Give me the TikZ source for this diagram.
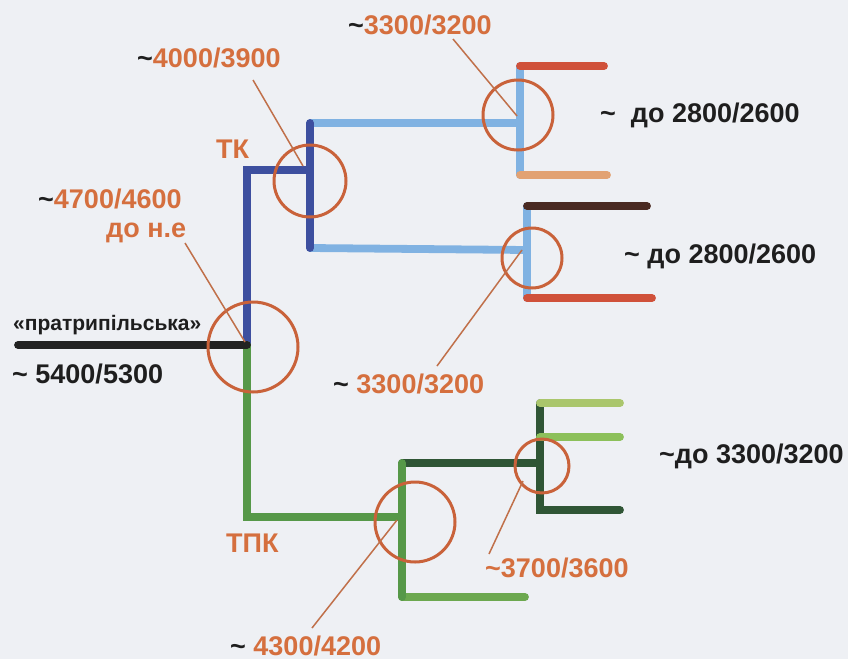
\documentclass[tikz,border=0pt]{standalone}
\usepackage{fontspec}
\setmainfont{Liberation Sans}
\definecolor{bgc}{HTML}{EEF0F4}
\definecolor{labc}{HTML}{D56F3E}
\definecolor{ringc}{HTML}{C9623A}
\definecolor{leadc}{HTML}{C0704A}
\definecolor{txtc}{HTML}{1E1E1E}
\definecolor{rootc}{HTML}{222222}
\definecolor{dblue}{HTML}{3D4F9F}
\definecolor{lblue}{HTML}{80B2E2}
\definecolor{redc}{HTML}{D0513A}
\definecolor{tanc}{HTML}{E2A273}
\definecolor{brownc}{HTML}{4A2A22}
\definecolor{mgreen}{HTML}{569848}
\definecolor{dgreen}{HTML}{2F5535}
\definecolor{lgreen}{HTML}{6CA84F}
\definecolor{ygreen}{HTML}{AAC66C}
\definecolor{pgreen}{HTML}{8CC05A}
\begin{document}
\begin{tikzpicture}[x=1pt,y=-1pt,
  br/.style={line width=7.8pt,line cap=round,line join=miter},
  ring/.style={circle,draw=ringc,line width=3pt,inner sep=0pt,fill=none},
  lead/.style={draw=leadc,line width=1.5pt},
  lbl/.style={font=\bfseries\fontsize{27}{27}\selectfont,text=labc,inner sep=0pt,anchor=base west},
  blk/.style={font=\bfseries\fontsize{27}{27}\selectfont,text=txtc,inner sep=0pt,anchor=base west},
]
\fill[bgc] (0,0) rectangle (848,659);
\useasboundingbox (0,0) rectangle (848,659);

% ---- coordinates of the tree ----
\coordinate (r0) at (18,345);
\coordinate (j0) at (247,345);
\coordinate (tkc) at (247,170);
\coordinate (j1) at (310,170);
\coordinate (j1t) at (310,123);
\coordinate (j1b) at (310,248);
\coordinate (j2) at (520,123);
\coordinate (j2t) at (520,66);
\coordinate (j2b) at (520,175);
\coordinate (e2t) at (604,66);
\coordinate (e2b) at (607,175);
\coordinate (j3) at (527,250);
\coordinate (j3t) at (527,206);
\coordinate (j3b) at (527,298);
\coordinate (e3t) at (647,206);
\coordinate (e3b) at (652,298);
\coordinate (gc) at (247,517);
\coordinate (j4) at (402,517);
\coordinate (j4t) at (402,463);
\coordinate (j4b) at (402,597);
\coordinate (e4b) at (525,597);
\coordinate (j5) at (540,463);
\coordinate (j5t) at (540,403);
\coordinate (j5m) at (540,437);
\coordinate (j5b) at (540,510);
\coordinate (e5t) at (620,403);
\coordinate (e5m) at (620,437);
\coordinate (e5b) at (620,510);

% ---- branches ----
\draw[br,lblue] (j2t) -- (j2b);
\draw[br,redc] (j2t) -- (e2t);
\draw[br,tanc] (j2b) -- (e2b);
\draw[br,lblue] (j1t) -- (j2);
\draw[br,lblue] (j3t) -- (j3b);
\draw[br,brownc] (j3t) -- (e3t);
\draw[br,redc] (j3b) -- (e3b);
\draw[br,lblue] (j1b) -- (j3);
\draw[br,dblue] (j1t) -- (j1b);
\draw[br,dblue] (j0) -- (tkc) -- (j1);

\draw[br,dgreen] (j5t) -- (j5b) -- (e5b);
\draw[br,ygreen] (j5t) -- (e5t);
\draw[br,pgreen] (j5m) -- (e5m);
\draw[br,dgreen] (j4t) -- (j5);
\draw[br,lgreen] (j4b) -- (e4b);
\draw[br,mgreen] (j4t) -- (j4b);
\draw[br,mgreen] (j0) -- (gc) -- (j4);
\draw[br,rootc] (r0) -- (j0);

% ---- rings ----
\node[ring,minimum size=90pt] (c0) at (253,347) {};
\node[ring,minimum size=72pt] (c1) at (310,181) {};
\node[ring,minimum size=70pt] (c2) at (518,115) {};
\node[ring,minimum size=60pt] (c3) at (532,258) {};
\node[ring,minimum size=80pt] (c4) at (415,522) {};
\node[ring,minimum size=54pt] (c5) at (542,466) {};

% ---- labels ----
\node[lbl] (t4000) at (137,67) {{\color{txtc}\textasciitilde}4000/3900};
\node[lbl] (t3300a) at (348,34) {{\color{txtc}\textasciitilde}3300/3200};
\node[lbl] (ttk) at (216,158) {ТК};
\node[lbl] (t4700) at (38,208) {{\color{txtc}\textasciitilde}4700/4600};
\node[lbl] (tdone) at (106,237) {до н.е};
\node[blk,font=\bfseries\fontsize{21}{21}\selectfont] (tpra) at (13,330) {«пратрипільська»};
\node[blk] (t5400) at (12,383) {\textasciitilde{} 5400/5300};
\node[blk] (t2800a) at (600,122) {\textasciitilde\ \ до 2800/2600};
\node[blk] (t2800b) at (624,263) {\textasciitilde{} до 2800/2600};
\node[lbl] (t3300b) at (333,393) {{\color{txtc}\textasciitilde} 3300/3200};
\node[lbl] (ttpk) at (226,552) {ТПК};
\node[blk] (t3300c) at (659,463) {\textasciitilde до 3300/3200};
\node[lbl] (t3700) at (485,577) {\textasciitilde3700/3600};
\node[lbl] (t4300) at (230,655) {{\color{txtc}\textasciitilde} 4300/4200};

% ---- leader lines ----
\coordinate (a4700) at (185,243);
\coordinate (b4700) at (245,342);
\coordinate (a4000) at (253,80);
\coordinate (b4000) at (303,166);
\coordinate (a3300a) at (453,39);
\coordinate (b3300a) at (517,116);
\coordinate (a3300b) at (437,366);
\coordinate (b3300b) at (522,250);
\coordinate (a3700) at (489,554);
\coordinate (b3700) at (523,481);
\coordinate (a4300) at (312,628);
\coordinate (b4300) at (397,520);
\draw[lead] (a4700) -- (b4700);
\draw[lead] (a4000) -- (b4000);
\draw[lead] (a3300a) -- (b3300a);
\draw[lead] (a3300b) -- (b3300b);
\draw[lead] (a3700) -- (b3700);
\draw[lead] (a4300) -- (b4300);
\end{tikzpicture}
\end{document}
